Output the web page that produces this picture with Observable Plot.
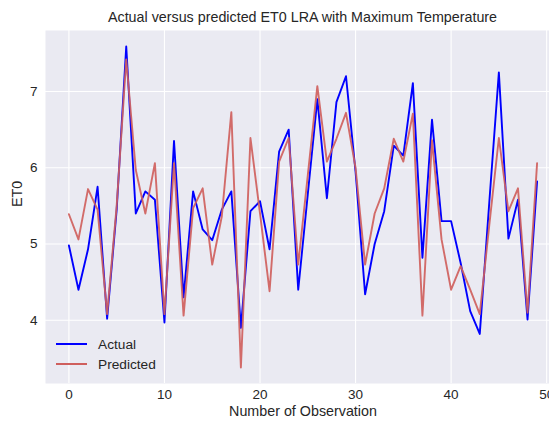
<!DOCTYPE html>
<html>
<head>
<meta charset="utf-8">
<script src="https://cdn.jsdelivr.net/npm/d3@7"></script>
<script src="https://cdn.jsdelivr.net/npm/@observablehq/plot@0.6"></script>
<style>
  html, body { margin: 0; padding: 0; background: #fff; overflow: hidden; }
  #wrap { position: relative; width: 575px; font-family: "Liberation Sans", Arial, sans-serif; color: #262626; }
  #title { height: 30px; box-sizing: border-box; padding: 9px 15px 0 45px; text-align: center; font-size: 14.3px; line-height: 16px; }
  #legend { position: absolute; left: 56px; top: 334px; font-size: 13.7px; }
  .item { display: flex; align-items: center; height: 20px; }
  .item svg { margin-right: 11px; }
</style>
</head>
<body>
<div id="wrap">
  <div id="title">Actual versus predicted ET0 LRA with Maximum Temperature</div>
  <div id="chart"></div>
  <div id="legend"></div>
</div>
<script>
const actual = [4.98,4.40,4.93,5.75,4.02,5.45,7.59,5.40,5.69,5.58,
                3.97,6.35,4.30,5.69,5.19,5.05,5.45,5.69,3.90,5.43,
                5.56,4.93,6.21,6.50,4.40,5.65,6.90,5.60,6.86,7.20,
                5.95,4.34,5.00,5.43,6.29,6.16,7.11,4.82,6.63,5.30,
                5.30,4.75,4.12,3.82,5.55,7.25,5.07,5.58,4.01,5.82];
const predicted = [5.39,5.06,5.72,5.45,4.08,5.50,7.42,5.97,5.40,6.06,
                   4.08,6.06,4.06,5.47,5.73,4.73,5.36,6.73,3.38,6.39,
                   5.40,4.38,6.08,6.39,4.73,5.90,7.07,6.08,6.38,6.72,
                   6.00,4.73,5.40,5.73,6.38,6.08,6.71,4.06,6.36,5.06,
                   4.40,4.71,4.40,4.08,5.25,6.39,5.43,5.73,4.10,6.06];
const xTicks = [0, 10, 20, 30, 40, 50];
const yTicks = [4, 5, 6, 7];
const seriesNames = ["Actual", "Predicted"];
const seriesColors = ["#0000ff", "#cf5f5d"];

const rows = [];
actual.forEach((v, i) => rows.push({i, v, s: "Actual"}));
predicted.forEach((v, i) => rows.push({i, v, s: "Predicted"}));

const chart = Plot.plot({
  width: 575,
  height: 391,
  marginTop: 0,
  marginBottom: 38,
  marginLeft: 45,
  marginRight: 15,
  style: {fontFamily: "Liberation Sans, Arial, sans-serif", fontSize: "13.5px", color: "#262626", background: "#fff"},
  x: {domain: [-2.45, 51.45], ticks: xTicks, tickSize: 0, tickPadding: 6, label: null},
  y: {domain: [3.17, 7.80], ticks: yTicks, tickSize: 0, tickPadding: 8, label: null},
  color: {domain: seriesNames, range: seriesColors},
  marks: [
    Plot.frame({fill: "#eaeaf2", stroke: null}),
    Plot.gridX(xTicks, {stroke: "white", strokeOpacity: 1, strokeWidth: 1.1}),
    Plot.gridY(yTicks, {stroke: "white", strokeOpacity: 1, strokeWidth: 1.1}),
    Plot.line(rows.filter(d => d.s === "Actual"), {x: "i", y: "v", stroke: "s", strokeWidth: 1.9}),
    Plot.line(rows.filter(d => d.s === "Predicted"), {x: "i", y: "v", stroke: "s", strokeWidth: 1.9, strokeOpacity: 0.92}),
    Plot.axisX({ticks: xTicks, tickSize: 0, tickPadding: 6, fontSize: 13.5, tickFormat: d => String(d), label: null}),
    Plot.axisY({ticks: yTicks, tickSize: 0, tickPadding: 8, fontSize: 13.5, tickFormat: d => String(d), label: null}),
    Plot.text(["Number of Observation"], {frameAnchor: "bottom", dy: 32, fontSize: 14.3, fill: "#262626"}),
    Plot.text(["ET0"], {frameAnchor: "left", dx: -28, rotate: -90, fontSize: 14.3, fill: "#262626"})
  ]
});
document.getElementById("chart").appendChild(chart);

const legend = document.getElementById("legend");
seriesNames.forEach((name, k) => {
  const item = document.createElement("div");
  item.className = "item";
  item.innerHTML = `<svg width="31" height="4"><line x1="0" x2="31" y1="2" y2="2" stroke="${seriesColors[k]}" stroke-width="2"/></svg><span>${name}</span>`;
  legend.appendChild(item);
});
</script>
</body>
</html>
